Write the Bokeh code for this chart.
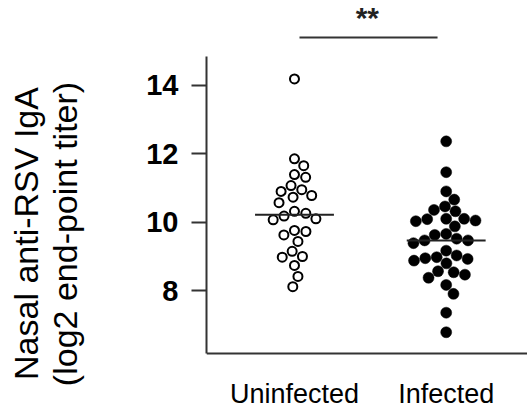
import numpy as np
from bokeh.plotting import figure
from bokeh.layouts import row
from bokeh.models import Range1d, FixedTicker
from bokeh.core.properties import value
from bokeh.embed import file_html
from bokeh.resources import INLINE

# Nasal anti-RSV IgA, log2 end-point titer, per subject
categories = ["Uninfected", "Infected"]
uninfected = [14.18, 11.85, 11.65, 11.39, 11.31, 11.07, 10.90, 10.95, 10.78,
              10.73, 10.57, 10.32, 10.18, 10.26, 10.10, 10.07, 9.76, 9.73,
              9.63, 9.44, 9.15, 8.98, 9.00, 8.74, 8.42, 8.12]
infected = [12.36, 11.46, 10.90, 10.66, 10.46, 10.36, 10.32, 10.09, 10.03,
            10.05, 10.10, 10.10, 9.88, 9.63, 9.66, 9.47, 9.47, 9.39, 9.52,
            9.17, 9.03, 8.95, 8.93, 8.80, 8.88, 8.98, 8.54, 8.38, 8.47, 8.57,
            8.17, 7.91, 7.36, 6.79]
y_ticks = [8, 10, 12, 14]
y_title = ["Nasal anti-RSV IgA", "(log2 end-point titer)"]
significance = "**"

W, H = 527, 409
SIDE_W = 100                      # strip holding the rotated y title
LEFT = 106                        # left border of the main plot (tick labels)
MAIN_W = W - SIDE_W
x_lo, x_hi = 0.42, 2.536
axis_bottom, axis_top = 6.17, 14.83   # extent of the drawn y axis
y_lo, y_hi = 4.536, 16.47             # frame runs the full height; axis sits above the labels
px_per_x = (MAIN_W - LEFT) / (x_hi - x_lo)
px_per_y = H / (y_hi - y_lo)

FONT = "Liberation Sans"
INK = "black"
AXIS = "#333333"


def swarm_offsets(vals, diam):
    """Beeswarm layout: horizontal offsets (x units) so markers do not overlap."""
    ys = np.asarray(vals, dtype=float) * px_per_y
    xs = np.zeros(len(ys))
    placed = []
    for i in np.argsort(-ys, kind="stable"):
        y = ys[i]
        near = [(qx, qy) for qx, qy in placed if abs(qy - y) < diam]
        cands = [0.0]
        for qx, qy in near:
            dx = np.sqrt(diam ** 2 - (qy - y) ** 2)
            cands += [qx + dx, qx - dx]
        cands.sort(key=lambda c: (round(abs(c), 3), c < 0))
        for c in cands:
            if all((c - qx) ** 2 + (y - qy) ** 2 >= diam ** 2 - 1e-6 for qx, qy in near):
                xs[i] = c
                break
        placed.append((xs[i], y))
    return xs / px_per_x


# ---- rotated two-line y title in a narrow strip (pixel ranges, y grows downward)
side = figure(width=SIDE_W, height=H, x_range=Range1d(0, SIDE_W), y_range=Range1d(H, 0),
              output_backend="svg", toolbar_location=None,
              x_axis_location=None, y_axis_location=None,
              min_border_left=0, min_border_right=0,
              min_border_top=0, min_border_bottom=0)
side.grid.visible = False
side.outline_line_color = None
side.background_fill_color = "white"
side.border_fill_color = "white"
side.text(x=[25.5, 64.5], y=[233, 233.5], text=y_title, angle=np.pi / 2,
          text_font=value(FONT), text_font_size="34px", text_align="center",
          text_baseline="alphabetic", text_color=INK)

# ---- main plot
p = figure(width=MAIN_W, height=H, x_range=Range1d(x_lo, x_hi), y_range=Range1d(y_lo, y_hi),
           output_backend="svg", toolbar_location=None, x_axis_location=None,
           min_border_left=LEFT, min_border_right=0, min_border_top=0,
           min_border_bottom=0)
p.outline_line_color = None
p.grid.visible = False
p.background_fill_color = "white"
p.border_fill_color = "white"

# y axis, drawn only over the data region
yax = p.yaxis[0]
yax.ticker = FixedTicker(ticks=y_ticks)
yax.bounds = (axis_bottom, axis_top)
yax.axis_line_width = 2
yax.axis_line_color = AXIS
yax.major_tick_out = 15
yax.major_tick_in = 0
yax.major_tick_line_width = 2
yax.major_tick_line_color = AXIS
yax.minor_tick_line_color = None
yax.major_label_standoff = 13
yax.major_label_text_font = FONT
yax.major_label_text_font_size = "29px"
yax.major_label_text_font_style = "bold"
yax.major_label_text_color = INK

# x baseline and group names
p.segment(x0=[x_lo], x1=[x_hi], y0=[axis_bottom], y1=[axis_bottom],
          line_color=AXIS, line_width=2)
p.text(x=[i + 1 for i in range(len(categories))], y=[4.98] * len(categories),
       text=categories, text_font=value(FONT), text_font_size="27px",
       text_align="center", text_baseline="alphabetic", text_color=INK)

# points
x_u = 1 + swarm_offsets(uninfected, 11.5)
x_i = 2 + swarm_offsets(infected, 11.5)
p.scatter(x=x_u, y=uninfected, size=9, marker="circle", fill_color="white",
          line_color="black", line_width=2)
p.scatter(x=x_i, y=infected, size=11, marker="circle", fill_color="black",
          line_color="black", line_width=0.5)

# medians
half = 0.26
meds = [float(np.median(uninfected)), float(np.median(infected))]
p.segment(x0=[1 - half, 2 - half], x1=[1 + half, 2 + half], y0=meds, y1=meds,
          line_color="#222222", line_width=2)

# significance bar
p.segment(x0=[1.033], x1=[1.943], y0=[15.39], y1=[15.39], line_color=AXIS, line_width=2)
p.text(x=[1.48], y=[15.97], text=[significance], text_font=value(FONT),
       text_font_size="30px", text_font_style="bold", text_align="center",
       text_baseline="alphabetic", text_color="#222222")

layout = row(side, p, spacing=0)
open("out.html", "w").write(file_html(layout, INLINE))
